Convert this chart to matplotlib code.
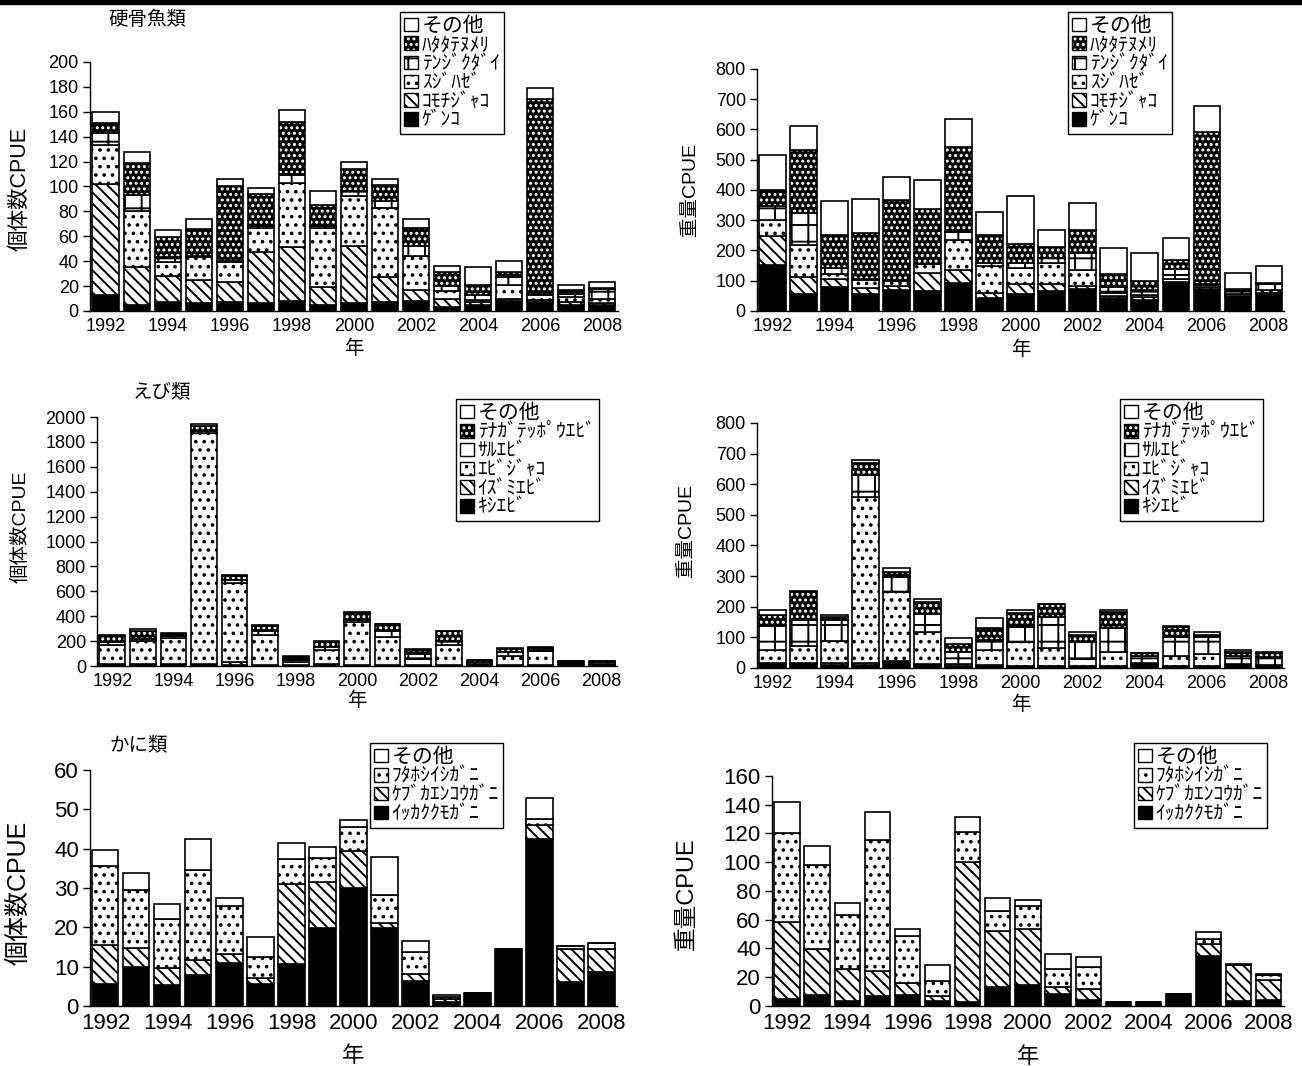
import matplotlib
matplotlib.use('Agg')
import matplotlib.pyplot as plt
from matplotlib.patches import Patch, Rectangle

plt.rcParams['font.family'] = ['Liberation Sans', 'Noto Sans CJK JP']
plt.rcParams['hatch.linewidth'] = 1.4

# 年
years = list(range(1992, 2009))
year_ticks = list(range(1992, 2009, 2))

# 硬骨魚類（下から順に積み上げ）
fish_labels = ['ｹﾞﾝｺ', 'ｺﾓﾁｼﾞｬｺ', 'ｽｼﾞﾊｾﾞ', 'ﾃﾝｼﾞｸﾀﾞｲ', 'ﾊﾀﾀﾃﾇﾒﾘ', 'その他']

# 硬骨魚類 個体数CPUE
fish_n_genko = [13, 5, 7, 6, 7, 6, 8, 5, 6, 7, 8, 3, 5, 8, 7, 5, 5]
fish_n_komochi = [89, 30, 21, 19, 16, 41, 43, 14, 46, 20, 9, 7, 2, 2, 2, 2, 1]
fish_n_sujihaze = [31, 45, 11, 18, 16, 20, 52, 48, 40, 56, 27, 6, 2, 11, 4, 4, 4]
fish_n_tenjiku = [10, 13, 4, 1, 1, 1, 7, 1, 4, 5, 8, 4, 4, 6, 1, 3, 8]
fish_n_hatatate = [8, 26, 16, 22, 60, 26, 42, 17, 18, 13, 15, 11, 8, 4, 156, 3, 0.5]
fish_n_other = [9, 9, 6, 8, 6, 5, 9, 11, 6, 5, 7, 5, 14, 9, 9, 4, 4.5]

# 硬骨魚類 重量CPUE
fish_w_genko = [152, 56, 80, 57, 69, 66, 93, 44, 55, 66, 74, 42, 36, 91, 74, 46, 55]
fish_w_komochi = [97, 57, 27, 19, 13, 60, 42, 14, 33, 22, 8, 8, 9, 6, 6, 4, 5]
fish_w_sujihaze = [51, 105, 14, 26, 17, 28, 101, 90, 55, 71, 53, 8, 7, 9, 6, 5, 8]
fish_w_tenjiku = [46, 106, 22, 3, 3, 2, 26, 11, 16, 17, 55, 22, 17, 34, 2, 14, 20]
fish_w_hatatate = [55, 209, 107, 153, 266, 182, 279, 93, 63, 36, 79, 41, 30, 30, 505, 3, 5]
fish_w_other = [114, 80, 114, 112, 76, 95, 94, 74, 158, 55, 87, 87, 91, 70, 83, 54, 55]

# えび類
shrimp_labels = ['ｷｼｴﾋﾞ', 'ｲｽﾞﾐｴﾋﾞ', 'ｴﾋﾞｼﾞｬｺ', 'ｻﾙｴﾋﾞ', 'ﾃﾅｶﾞﾃｯﾎﾟｳｴﾋﾞ', 'その他']

# えび類 個体数CPUE
shrimp_n_kishi = [10, 10, 8, 5, 10, 5, 5, 10, 5, 5, 5, 5, 10, 5, 5, 30, 5]
shrimp_n_izumi = [10, 5, 7, 15, 20, 5, 5, 5, 5, 5, 5, 5, 5, 5, 5, 2, 5]
shrimp_n_ebijako = [150, 185, 210, 1850, 640, 240, 20, 115, 340, 225, 50, 155, 5, 70, 110, 2, 5]
shrimp_n_saru = [25, 20, 15, 20, 20, 30, 20, 20, 20, 45, 40, 35, 10, 30, 10, 2, 15]
shrimp_n_tenaga = [45, 65, 20, 40, 35, 45, 25, 45, 55, 55, 30, 80, 15, 30, 15, 3, 8]
shrimp_n_other = [10, 10, 5, 10, 5, 5, 5, 5, 10, 5, 5, 5, 5, 5, 5, 1, 2]

# えび類 重量CPUE
shrimp_w_kishi = [13, 12, 10, 10, 20, 10, 5, 5, 3, 3, 5, 5, 10, 3, 3, 10, 5]
shrimp_w_izumi = [2, 3, 5, 5, 2, 2, 3, 5, 2, 2, 3, 3, 2, 2, 2, 2, 3]
shrimp_w_ebijako = [43, 58, 72, 542, 226, 105, 4, 49, 79, 59, 22, 43, 3, 35, 41, 2, 2]
shrimp_w_saru = [79, 82, 68, 73, 49, 60, 39, 31, 49, 104, 54, 80, 25, 61, 55, 26, 27]
shrimp_w_tenaga = [36, 93, 13, 39, 17, 38, 28, 41, 46, 40, 22, 52, 8, 32, 8, 11, 11]
shrimp_w_other = [17, 2, 6, 9, 11, 11, 18, 33, 9, 2, 11, 7, 2, 4, 9, 8, 3]

# かに類
crab_labels = ['ｲｯｶｸｸﾓｶﾞﾆ', 'ｹﾌﾞｶｴﾝｺｳｶﾞﾆ', 'ﾌﾀﾎｼｲｼｶﾞﾆ', 'その他']

# かに類 個体数CPUE
crab_n_ikkaku = [5.5, 10.0, 5.3, 7.8, 11.0, 5.7, 10.6, 19.7, 30.1, 19.7, 6.4, 1.0, 3.4, 14.6, 42.4, 6.2, 8.7]
crab_n_kebuka = [9.9, 4.8, 4.4, 3.8, 2.1, 1.5, 20.3, 11.7, 9.3, 1.5, 1.7, 0.8, 0, 0, 3.5, 8.2, 5.7]
crab_n_futahoshi = [20.2, 14.7, 12.5, 22.9, 12.3, 5.3, 6.4, 6.3, 6.2, 6.9, 5.5, 0.5, 0, 0, 1.7, 0.8, 1.5]
crab_n_other = [4.1, 4.2, 3.8, 8.0, 2.1, 5.0, 4.2, 2.7, 1.7, 9.8, 2.9, 0.6, 0, 0, 5.4, 0.1, 0.1]

# かに類 重量CPUE
crab_w_ikkaku = [5.1, 7.9, 3.2, 6.9, 7.4, 3.2, 2.8, 12.9, 14.3, 8.6, 4.4, 2.5, 2.8, 8.3, 35.1, 3.2, 4.4]
crab_w_kebuka = [53.2, 31.9, 22.7, 17.1, 8.6, 3.5, 97.1, 39.1, 39.3, 4.6, 7.6, 0, 0, 0, 7.9, 25.0, 13.9]
crab_w_futahoshi = [61.9, 58.5, 37.5, 91.6, 32.6, 10.4, 20.8, 14.4, 15.8, 12.7, 15.1, 0, 0, 0, 3.7, 0.5, 3.4]
crab_w_other = [22.0, 13.1, 8.3, 19.0, 5.0, 11.6, 10.9, 8.7, 4.4, 10.1, 6.7, 0, 0, 0, 5.1, 0.2, 0.3]

# 塗りつぶしの種類 (面の色, ハッチの色, ハッチ)
BSL = chr(92)  # バックスラッシュ
SOLID = ('black', 'black', None)
DIAG = ('white', 'black', BSL * 3)
DOTS = ('white', 'black', '..')
GRID = ('white', 'black', '+')
DARK = ('black', 'white', '...')
BLANK = ('white', 'black', None)

fish_styles = [SOLID, DIAG, DOTS, GRID, DARK, BLANK]
crab_styles = [SOLID, DIAG, DOTS, BLANK]


def draw_panel(fig, rect, series, styles, labels, ymax, ystep, ylabel,
               leg_pos, tick_size, ylabel_size, ylabel_xy, xlabel_y, xlabel_size,
               leg_size=14):
    ax = fig.add_axes(rect)
    bottom = [0] * len(years)
    for vals, (fc, hc, h) in zip(series, styles):
        ax.bar(years, vals, bottom=bottom, width=0.84, color=fc, edgecolor=hc,
               hatch=h, linewidth=0)
        ax.bar(years, vals, bottom=bottom, width=0.84, fill=False,
               edgecolor='black', linewidth=1.2)
        bottom = [b + v for b, v in zip(bottom, vals)]

    ax.set_xlim(1991.5, 2008.5)
    ax.set_ylim(0, ymax)
    ax.set_yticks(range(0, ymax + 1, ystep))
    ax.set_xticks(year_ticks)
    ax.tick_params(axis='x', length=0, pad=5, labelsize=tick_size)
    ax.tick_params(axis='y', length=5, width=1, direction='out', labelsize=tick_size, pad=3)
    for s in ['top', 'right']:
        ax.spines[s].set_visible(False)
    for s in ['left', 'bottom']:
        ax.spines[s].set_linewidth(1)

    ax.set_ylabel(ylabel, fontsize=ylabel_size, va='center')
    ax.yaxis.set_label_coords(*ylabel_xy)
    ax.set_xlabel('年', fontsize=xlabel_size, va='top')
    ax.xaxis.set_label_coords(0.5, xlabel_y)

    # 凡例（上から その他 → 最下層）
    handles = []
    for fc, hc, h in styles:
        handles.append((Patch(facecolor=fc, edgecolor=hc, hatch=h, linewidth=0),
                        Patch(fill=False, edgecolor='black', linewidth=1)))
    leg = ax.legend(handles[::-1], labels[::-1], loc='upper left',
                    bbox_to_anchor=leg_pos, bbox_transform=fig.transFigure,
                    borderaxespad=0, fancybox=False, framealpha=1,
                    edgecolor='black', fontsize=leg_size, handlelength=0.7,
                    handleheight=0.7, handletextpad=0.2, labelspacing=0.06,
                    borderpad=0.22)
    leg.get_frame().set_linewidth(1)
    leg.get_texts()[0].set_fontsize(leg_size + 1)
    return ax


fig = plt.figure(figsize=(13.02, 10.66), dpi=100)

# 上端の黒帯
fig.patches.append(Rectangle((0, 1 - 4 / 1066), 1, 4 / 1066, transform=fig.transFigure,
                             color='black'))

draw_panel(fig, [0.0691, 0.7083, 0.4055, 0.2336],
           [fish_n_genko, fish_n_komochi, fish_n_sujihaze, fish_n_tenjiku, fish_n_hatatate, fish_n_other],
           fish_styles, fish_labels, 200, 20, '個体数CPUE', (0.3072, 0.9887),
           13, 15.5, (-0.133, 0.49), -0.116, 14)
draw_panel(fig, [0.5814, 0.7083, 0.4048, 0.2270],
           [fish_w_genko, fish_w_komochi, fish_w_sujihaze, fish_w_tenjiku, fish_w_hatatate, fish_w_other],
           fish_styles, fish_labels, 800, 100, '重量CPUE', (0.8203, 0.9887),
           13, 14, (-0.127, 0.5), -0.124, 14)
draw_panel(fig, [0.0745, 0.3752, 0.3994, 0.2336],
           [shrimp_n_kishi, shrimp_n_izumi, shrimp_n_ebijako, shrimp_n_saru, shrimp_n_tenaga, shrimp_n_other],
           fish_styles, shrimp_labels, 2000, 200, '個体数CPUE', (0.3502, 0.6257),
           13, 14, (-0.148, 0.56), -0.104, 14)
draw_panel(fig, [0.5814, 0.3734, 0.4048, 0.2298],
           [shrimp_w_kishi, shrimp_w_izumi, shrimp_w_ebijako, shrimp_w_saru, shrimp_w_tenaga, shrimp_w_other],
           fish_styles, shrimp_labels, 800, 100, '重量CPUE', (0.8602, 0.6257),
           13, 14, (-0.133, 0.56), -0.114, 14)
draw_panel(fig, [0.0691, 0.0563, 0.4048, 0.2214],
           [crab_n_ikkaku, crab_n_kebuka, crab_n_futahoshi, crab_n_other],
           crab_styles, crab_labels, 60, 10, '個体数CPUE', (0.2842, 0.3030),
           16, 18, (-0.135, 0.48), -0.17, 16)
draw_panel(fig, [0.5929, 0.0563, 0.3932, 0.2158],
           [crab_w_ikkaku, crab_w_kebuka, crab_w_futahoshi, crab_w_other],
           crab_styles, crab_labels, 160, 20, '重量CPUE', (0.8710, 0.3030),
           16, 17, (-0.166, 0.487), -0.178, 16)

# グループ名
fig.text(108 / 1302, 1 - 20 / 1066, '硬骨魚類', fontsize=14, ha='left', va='center')
fig.text(133 / 1302, 1 - 392 / 1066, 'えび類', fontsize=14, ha='left', va='center')
fig.text(109 / 1302, 1 - 745 / 1066, 'かに類', fontsize=14, ha='left', va='center')

fig.savefig('out.png', dpi=100)
